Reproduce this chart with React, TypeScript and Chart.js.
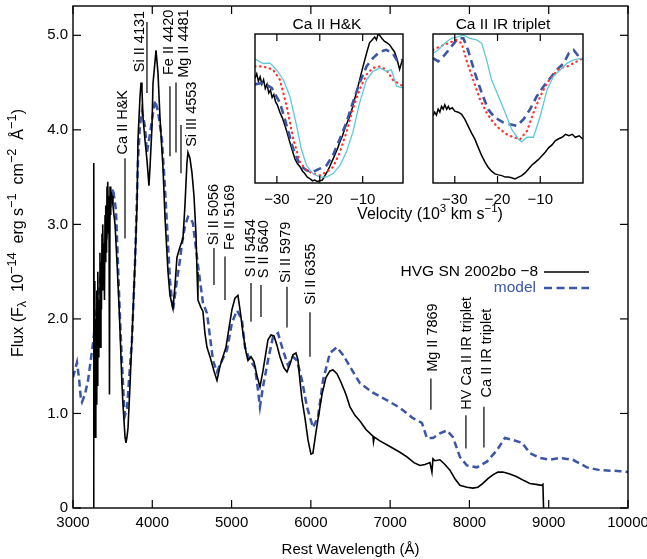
import React, { useEffect, useRef } from "react";
import { Chart, registerables } from "chart.js";
Chart.register(...registerables);

const FONT = "'Liberation Sans', Arial, sans-serif";
const BLUE = "#3c56a6";
const RED = "#ff3030";
const CYAN = "#5ec8d8";

// ---------- main panel data ----------
const xTicks = [3000, 4000, 5000, 6000, 7000, 8000, 9000, 10000];
const yTicks = [0, 1, 2, 3, 4, 5];

const obsWave = [3255,3262,3268,3275,3281,3288,3294,3300,3307,3313,3320,3326,3333,3340,3346,3353,3359,3366,3372,3378,3385,3391,3397,3404,3410,3416,3423,3429,3435,3441,3448,3454,3460,3467,3473,3479,3492,3504,3530,3555,3580,3593,3618,3630,3656,3668,3681,3694,3719,3744,3782,3807,3820,3845,3858,3870,3883,3908,3933,3958,3971,3996,4009,4047,4072,4097,4135,4160,4198,4223,4261,4286,4311,4349,4387,4412,4437,4450,4475,4500,4526,4551,4564,4576,4614,4639,4664,4690,4728,4778,4816,4854,4891,4929,4967,5005,5043,5080,5106,5144,5182,5207,5245,5282,5320,5358,5396,5434,5459,5497,5535,5573,5610,5661,5699,5737,5774,5812,5837,5862,5888,5926,5964,6001,6026,6064,6102,6140,6190,6241,6279,6329,6380,6443,6493,6556,6619,6695,6783,6790,6800,6871,6997,7123,7212,7300,7376,7439,7502,7527,7540,7565,7628,7691,7754,7817,7880,7968,8044,8107,8170,8233,8296,8359,8422,8510,8598,8687,8762,8838,8914,8927,8935];
const obsFlux = [0,3.65,1.0,2.4,0.75,2.0,1.1,2.3,1.3,2.5,1.6,2.2,1.8,2.7,1.7,2.6,2.1,2.9,2.3,3.0,2.4,2.8,2.2,3.1,2.6,3.2,2.7,3.4,2.9,3.45,3.0,3.3,1.2,3.4,3.1,3.35,3.3,3.2,3.0,2.6,2.15,1.88,1.3,1.1,0.75,0.69,0.75,0.85,1.3,1.81,2.59,3.2,3.9,4.35,4.5,4.42,4.13,3.89,3.68,3.41,3.6,4.03,4.49,4.84,4.6,4.13,3.6,3.08,2.5,2.25,2.11,2.35,2.65,2.76,2.85,3.2,3.65,3.76,3.7,3.55,3.3,2.9,2.5,2.2,2.12,2.08,1.85,1.7,1.6,1.45,1.35,1.5,1.6,1.7,1.9,2.1,2.22,2.25,2.1,1.85,1.65,1.56,1.6,1.55,1.4,1.28,1.45,1.65,1.78,1.83,1.82,1.72,1.6,1.48,1.44,1.52,1.62,1.64,1.57,1.35,1.15,0.95,0.72,0.57,0.58,0.8,1.0,1.2,1.38,1.45,1.46,1.42,1.33,1.2,1.07,0.98,0.92,0.83,0.76,0.7,0.75,0.71,0.65,0.59,0.54,0.48,0.45,0.46,0.48,0.38,0.52,0.5,0.51,0.46,0.4,0.31,0.24,0.22,0.21,0.22,0.26,0.31,0.35,0.38,0.38,0.36,0.33,0.29,0.26,0.25,0.24,0.25,0];

const modelWave = [3000,3050,3075,3100,3113,3150,3190,3252,3315,3378,3441,3480,3504,3542,3567,3593,3618,3643,3656,3681,3706,3744,3782,3807,3820,3845,3870,3908,3933,3971,4034,4072,4122,4160,4198,4223,4261,4311,4349,4375,4412,4450,4488,4513,4564,4601,4639,4690,4728,4766,4816,4879,4942,5005,5068,5131,5169,5232,5295,5333,5358,5396,5459,5522,5585,5648,5711,5774,5825,5888,5951,6027,6090,6153,6241,6329,6405,6518,6619,6783,6960,7123,7287,7401,7464,7540,7628,7716,7792,7880,7968,8094,8220,8346,8447,8548,8662,8763,8889,9015,9141,9305,9482,9646,9899,10000];
const modelFlux = [1.38,1.54,1.38,1.15,1.12,1.2,1.35,1.74,2.23,2.65,2.94,3.25,3.38,3.15,2.59,2.0,1.53,1.1,0.98,1.05,1.35,1.78,2.59,3.3,3.68,4.05,4.2,4.03,3.76,3.96,4.31,4.2,3.89,3.39,2.8,2.41,2.09,2.41,2.62,2.8,2.98,3.08,3.06,3.01,2.65,2.41,2.17,2.06,1.81,1.56,1.44,1.56,1.67,1.96,2.09,1.99,1.7,1.56,1.49,1.25,1.07,1.28,1.56,1.81,1.85,1.67,1.51,1.6,1.56,1.35,1.07,0.85,0.96,1.35,1.64,1.7,1.62,1.46,1.32,1.22,1.14,1.06,0.95,0.9,0.74,0.74,0.79,0.82,0.75,0.54,0.45,0.43,0.49,0.61,0.74,0.72,0.69,0.58,0.53,0.51,0.53,0.51,0.43,0.4,0.39,0.38];

const lineNames = ["Ca II H&K","Si II 4131","Fe II 4420","Mg II 4481","Si III 4553","Si II 5056","Fe II 5169","S II 5454","S II 5640","Si II 5979","Si II 6355","Mg II 7869","HV Ca II IR triplet","Ca II IR triplet"];
const lineWave = [3656,3933,4223,4299,4362,4778,4917,5245,5371,5699,5989,7514,7956,8183];
const lineTop = [3.70,5.14,4.46,4.50,4.05,2.75,2.66,2.38,2.36,2.34,2.07,1.37,0.98,1.07];
const lineBottom = [2.85,4.39,3.72,3.76,3.54,2.36,2.20,1.97,2.02,1.91,1.60,1.04,0.63,0.64];
const labelWave = [3630,3845,4211,4400,4500,4778,4980,5245,5409,5686,6001,7540,7968,8221];
const labelBase = [3.74,4.61,4.58,4.55,3.82,2.78,2.73,2.44,2.43,2.38,2.15,1.44,1.04,1.17];

const legendNames = ["HVG SN 2002bo \u22128", "model"];

// ---------- inset data ----------
const insetTicks = [-30, -20, -10];

const hkObsV = [-35.1,-34.7,-34.3,-33.9,-33.5,-33.1,-32.7,-32.3,-31.9,-31.5,-31.1,-30.7,-30.3,-29.9,-29.3,-28.7,-28.1,-27.5,-27.0,-26.4,-25.8,-25.2,-24.6,-24.0,-23.5,-22.9,-22.3,-21.7,-21.2,-20.6,-20.0,-19.4,-18.8,-18.2,-17.7,-17.1,-16.5,-15.9,-15.3,-14.7,-14.2,-13.6,-13.0,-12.4,-11.9,-11.3,-10.7,-10.1,-9.5,-9.0,-8.4,-7.8,-7.2,-6.8,-6.4,-6.0,-5.5,-4.9,-4.3,-3.7,-3.1,-2.6,-2.0,-1.4,-1.0,-0.7];
const hkObsY = [0.70,0.73,0.68,0.71,0.66,0.69,0.63,0.66,0.60,0.62,0.57,0.59,0.54,0.52,0.47,0.43,0.378,0.32,0.268,0.21,0.154,0.12,0.10,0.07,0.054,0.03,0.02,0.005,0.01,0.0,0.005,0.01,0.04,0.07,0.10,0.14,0.18,0.22,0.27,0.31,0.356,0.40,0.445,0.50,0.557,0.62,0.69,0.76,0.825,0.88,0.94,0.96,0.98,0.96,1.0,0.99,0.97,0.95,0.94,0.926,0.90,0.88,0.83,0.76,0.80,0.825];
const hkModV = [-35.1,-33.2,-31.2,-29.3,-27.7,-26.2,-24.6,-23.1,-21.6,-20.0,-18.4,-16.9,-15.3,-13.8,-12.3,-10.7,-9.1,-7.6,-6.0,-4.5,-3.0,-1.8,-0.6];
const hkModY = [0.658,0.67,0.635,0.535,0.378,0.22,0.11,0.076,0.065,0.087,0.11,0.18,0.29,0.40,0.535,0.67,0.78,0.837,0.88,0.893,0.87,0.81,0.825];
const hkRedV = [-35.1,-33.2,-30.9,-29.3,-27.7,-26.2,-24.6,-23.1,-21.6,-20.0,-18.4,-16.9,-15.3,-13.8,-12.3,-10.7,-9.1,-7.6,-6.0,-4.5,-3.0,-0.6];
const hkRedY = [0.78,0.78,0.758,0.69,0.51,0.29,0.13,0.076,0.054,0.042,0.065,0.098,0.2,0.333,0.49,0.624,0.725,0.77,0.78,0.758,0.69,0.646];
const hkCyanV = [-35.1,-33.2,-31.6,-30.1,-28.5,-27.0,-25.4,-24.3,-23.1,-21.6,-20.0,-18.4,-16.9,-15.3,-13.8,-12.3,-10.7,-9.1,-7.6,-6.0,-4.5,-3.3,-2.1,-0.6];
const hkCyanY = [0.83,0.80,0.803,0.758,0.69,0.58,0.378,0.22,0.11,0.054,0.03,0.03,0.054,0.11,0.2,0.333,0.535,0.69,0.747,0.77,0.747,0.758,0.646,0.635];

const irObsV = [-35.1,-34.7,-34.3,-33.9,-33.5,-33.1,-32.7,-32.35,-31.9,-31.5,-31.2,-30.6,-30.0,-29.2,-28.4,-27.6,-26.9,-26.1,-25.3,-24.5,-23.7,-22.9,-22.2,-21.4,-20.6,-19.8,-19.0,-18.2,-17.5,-16.7,-15.9,-15.1,-14.35,-13.5,-12.75,-12.0,-11.2,-10.4,-9.6,-8.8,-8.0,-7.2,-6.5,-5.7,-4.9,-4.1,-3.3,-2.5,-1.8,-0.9,0.0];
const irObsY = [0.444,0.47,0.45,0.49,0.47,0.51,0.49,0.52,0.49,0.51,0.49,0.50,0.477,0.47,0.455,0.42,0.377,0.33,0.287,0.23,0.175,0.13,0.097,0.07,0.052,0.045,0.04,0.03,0.03,0.025,0.018,0.03,0.04,0.06,0.085,0.11,0.13,0.15,0.175,0.20,0.23,0.25,0.276,0.29,0.30,0.32,0.31,0.32,0.30,0.31,0.287];
const irModV = [-35.1,-33.9,-32.35,-30.8,-29.2,-28.0,-26.9,-25.3,-23.7,-22.2,-20.6,-18.6,-17.1,-15.5,-13.9,-12.4,-10.8,-9.2,-7.65,-6.1,-4.5,-3.3,-2.2,-1.0,0.0];
const irModY = [0.836,0.814,0.859,0.915,0.971,0.971,0.892,0.736,0.601,0.489,0.433,0.40,0.388,0.377,0.422,0.489,0.578,0.646,0.702,0.758,0.803,0.87,0.892,0.847,0.83];
const irRedV = [-35.1,-33.5,-31.6,-29.6,-28.4,-27.3,-25.7,-24.1,-22.55,-21.0,-19.4,-17.8,-16.3,-14.7,-13.1,-11.6,-10.0,-8.4,-6.9,-5.3,-3.7,-2.2,0.0];
const irRedY = [0.892,0.915,0.937,0.96,0.937,0.825,0.69,0.556,0.466,0.40,0.354,0.32,0.30,0.287,0.343,0.466,0.578,0.668,0.724,0.77,0.78,0.803,0.836];
const irCyanV = [-35.1,-33.9,-32.35,-30.8,-29.2,-28.0,-26.5,-24.9,-23.7,-22.55,-21.4,-19.8,-18.2,-16.7,-15.1,-14.35,-13.1,-11.6,-10.0,-8.4,-6.9,-5.3,-3.7,-2.2,0.0];
const irCyanY = [0.87,0.892,0.937,0.971,0.982,0.993,0.971,0.96,0.937,0.825,0.69,0.578,0.466,0.354,0.287,0.269,0.30,0.30,0.444,0.623,0.713,0.758,0.803,0.825,0.836];

// ---------- helpers ----------
const pts = (xs: number[], ys: number[]) => xs.map((x, i) => ({ x, y: ys[i] }));

type Part = { t: string; s: number };
function richText(ctx: CanvasRenderingContext2D, parts: Part[], x: number, y: number, rotate: boolean, size: number, supScale: number, color: string) {
  ctx.save();
  ctx.translate(x, y);
  if (rotate) ctx.rotate(-Math.PI / 2);
  const big = `${size}px ${FONT}`;
  const small = `${(size * supScale).toFixed(1)}px ${FONT}`;
  let w = 0;
  for (const p of parts) { ctx.font = p.s ? small : big; w += ctx.measureText(p.t).width; }
  let cx = -w / 2;
  ctx.textBaseline = "middle";
  ctx.textAlign = "left";
  ctx.fillStyle = color;
  for (const p of parts) {
    ctx.font = p.s ? small : big;
    const dy = p.s === 1 ? -size * 0.38 : p.s === -1 ? size * 0.22 : 0;
    ctx.fillText(p.t, cx, dy);
    cx += ctx.measureText(p.t).width;
  }
  ctx.restore();
}

function seg(ctx: CanvasRenderingContext2D, x1: number, y1: number, x2: number, y2: number) {
  ctx.beginPath(); ctx.moveTo(x1, y1); ctx.lineTo(x2, y2); ctx.stroke();
}

const mainDecor = {
  id: "mainDecor",
  afterDraw(chart: any) {
    const { ctx, chartArea: a, scales } = chart;
    const x = scales.x, y = scales.y;
    ctx.save();
    ctx.strokeStyle = "#000";
    ctx.lineWidth = 1.4;
    ctx.strokeRect(a.left, a.top, a.right - a.left, a.bottom - a.top);
    ctx.lineWidth = 1.2;
    for (const t of xTicks) {
      const px = x.getPixelForValue(t);
      seg(ctx, px, a.bottom, px, a.bottom - 8);
      seg(ctx, px, a.top, px, a.top + 8);
    }
    for (const t of yTicks) {
      const py = y.getPixelForValue(t);
      seg(ctx, a.left, py, a.left + 8, py);
      seg(ctx, a.right, py, a.right - 8, py);
    }
    // line identification labels
    ctx.fillStyle = "#000";
    ctx.font = `14.5px ${FONT}`;
    lineNames.forEach((s, i) => {
      const px = x.getPixelForValue(labelWave[i]);
      const py = y.getPixelForValue(labelBase[i]);
      ctx.save();
      ctx.translate(px, py);
      ctx.rotate(-Math.PI / 2);
      ctx.textAlign = "left";
      ctx.textBaseline = "middle";
      ctx.fillText(s, 0, 0);
      ctx.restore();
    });
    // legend
    ctx.font = `15.5px ${FONT}`;
    ctx.textAlign = "right";
    ctx.textBaseline = "middle";
    ctx.fillStyle = "#000";
    ctx.fillText(legendNames[0], 538, 272);
    ctx.fillStyle = BLUE;
    ctx.fillText(legendNames[1], 536, 288);
    ctx.strokeStyle = "#000";
    ctx.lineWidth = 1.5;
    seg(ctx, 544, 272, 589, 272);
    ctx.strokeStyle = BLUE;
    ctx.lineWidth = 2.5;
    ctx.setLineDash([8, 4.5]);
    seg(ctx, 544, 288, 589, 288);
    ctx.setLineDash([]);
    // y axis title
    richText(ctx, [
      { t: "Flux (F", s: 0 }, { t: "\u03bb", s: -1 }, { t: "  10", s: 0 }, { t: "\u221214", s: 1 },
      { t: "  erg s", s: 0 }, { t: "\u22121", s: 1 }, { t: "  cm", s: 0 }, { t: "\u22122", s: 1 },
      { t: "  \u00c5", s: 0 }, { t: "\u22121", s: 1 }, { t: ")", s: 0 },
    ], 19, 233, true, 16, 0.8, "#000");
    // velocity label for insets
    richText(ctx, [
      { t: "Velocity (10", s: 0 }, { t: "3", s: 1 }, { t: " km s", s: 0 }, { t: "\u22121", s: 1 }, { t: ")", s: 0 },
    ], 430, 215, false, 16, 0.72, "#000");
    ctx.restore();
  },
};

function mainConfig(): any {
  const datasets: any[] = [
    { data: pts(obsWave, obsFlux), borderColor: "#000", borderWidth: 1.6, pointRadius: 0, tension: 0 },
    { data: pts(modelWave, modelFlux), borderColor: BLUE, borderWidth: 2.5, borderDash: [7, 4], pointRadius: 0, tension: 0 },
  ];
  lineWave.forEach((w, i) => {
    datasets.push({ data: [{ x: w, y: lineTop[i] }, { x: w, y: lineBottom[i] }], borderColor: "#000", borderWidth: 1.2, pointRadius: 0 });
  });
  return {
    type: "line",
    data: { datasets },
    options: {
      responsive: false,
      animation: false,
      devicePixelRatio: 1,
      layout: { padding: { top: 6, right: 19, left: 0, bottom: 0 } },
      plugins: { legend: { display: false }, tooltip: { enabled: false } },
      scales: {
        x: {
          type: "linear", min: 3000, max: 10000,
          grid: { display: false, drawTicks: false }, border: { display: false },
          ticks: { font: { family: FONT, size: 15 }, color: "#000", padding: 6, maxRotation: 0, autoSkip: false, callback: (v: number) => String(v) },
          afterBuildTicks: (s: any) => { s.ticks = xTicks.map((v) => ({ value: v })); },
          afterFit: (s: any) => { s.height = 51; s.paddingLeft = 0; s.paddingRight = 0; },
          title: { display: true, text: "Rest Wavelength (\u00c5)", font: { family: FONT, size: 15 }, color: "#000", padding: { top: 0, bottom: 0 } },
        },
        y: {
          type: "linear", min: 0, max: 5.31,
          grid: { display: false, drawTicks: false }, border: { display: false },
          ticks: { font: { family: FONT, size: 15 }, color: "#000", padding: 5, callback: (v: number) => (v === 0 ? "0" : v.toFixed(1)) },
          afterBuildTicks: (s: any) => { s.ticks = yTicks.map((v) => ({ value: v })); },
          afterFit: (s: any) => { s.width = 73; s.paddingTop = 0; s.paddingBottom = 0; },
        },
      },
    },
    plugins: [mainDecor],
  };
}

function insetConfig(series: { v: number[]; y: number[]; kind: string }[], title: string, titleX: number, padLeft: number, max: number): any {
  const style: any = {
    obs: { borderColor: "#000", borderWidth: 1.5 },
    model: { borderColor: BLUE, borderWidth: 2.6, borderDash: [8, 5] },
    red: { borderColor: RED, borderWidth: 2.2, borderDash: [0.5, 4.5], borderCapStyle: "round" },
    cyan: { borderColor: CYAN, borderWidth: 1.3 },
  };
  const decor = {
    id: "insetDecor",
    afterDraw(chart: any) {
      const { ctx, chartArea: a, scales } = chart;
      ctx.save();
      ctx.strokeStyle = "#000";
      ctx.lineWidth = 1.4;
      ctx.strokeRect(a.left, a.top, a.right - a.left, a.bottom - a.top);
      ctx.lineWidth = 1.2;
      for (const t of insetTicks) {
        const px = scales.x.getPixelForValue(t);
        seg(ctx, px, a.bottom, px, a.bottom - 7);
        seg(ctx, px, a.top, px, a.top + 7);
      }
      ctx.font = `15.5px ${FONT}`;
      ctx.fillStyle = "#000";
      ctx.textAlign = "center";
      ctx.textBaseline = "middle";
      ctx.fillText(title, titleX, 17);
      ctx.restore();
    },
  };
  return {
    type: "line",
    data: {
      datasets: [...series].reverse().map((s) => ({ data: pts(s.v, s.y), pointRadius: 0, tension: 0, ...style[s.kind] })),
    },
    options: {
      responsive: false,
      animation: false,
      devicePixelRatio: 1,
      layout: { padding: { top: 26, right: 17, left: padLeft, bottom: 0 } },
      plugins: { legend: { display: false }, tooltip: { enabled: false } },
      scales: {
        x: {
          type: "linear", min: -35.1, max,
          grid: { display: false, drawTicks: false }, border: { display: false },
          ticks: { font: { family: FONT, size: 15 }, color: "#000", padding: 8, maxRotation: 0, autoSkip: false, callback: (v: number) => (v < 0 ? "\u2212" + Math.abs(v) : String(v)) },
          afterBuildTicks: (s: any) => { s.ticks = insetTicks.map((v) => ({ value: v })); },
          afterFit: (s: any) => { s.height = 29; s.paddingLeft = 0; s.paddingRight = 0; },
        },
        y: { type: "linear", display: false, min: -0.01, max: 1.0 },
      },
    },
    plugins: [decor],
  };
}

export default function App() {
  const mainRef = useRef<HTMLCanvasElement>(null);
  const hkRef = useRef<HTMLCanvasElement>(null);
  const irRef = useRef<HTMLCanvasElement>(null);
  useEffect(() => {
    document.body.style.margin = "0";
    const charts: Chart[] = [];
    charts.push(new Chart(mainRef.current as HTMLCanvasElement, mainConfig()));
    charts.push(new Chart(hkRef.current as HTMLCanvasElement, insetConfig([
      { v: hkObsV, y: hkObsY, kind: "obs" },
      { v: hkModV, y: hkModY, kind: "model" },
      { v: hkRedV, y: hkRedY, kind: "red" },
      { v: hkCyanV, y: hkCyanY, kind: "cyan" },
    ], "Ca II H&K", 87, 15, -0.6)));
    charts.push(new Chart(irRef.current as HTMLCanvasElement, insetConfig([
      { v: irObsV, y: irObsY, kind: "obs" },
      { v: irModV, y: irModY, kind: "model" },
      { v: irRedV, y: irRedY, kind: "red" },
      { v: irCyanV, y: irCyanY, kind: "cyan" },
    ], "Ca II IR triplet", 83, 13, 0)));
    return () => charts.forEach((c) => c.destroy());
  }, []);
  return (
    <div style={{ position: "absolute", left: 0, top: 0, width: 647, height: 559, background: "#fff" }}>
      <canvas ref={mainRef} width={647} height={559} style={{ position: "absolute", left: 0, top: 0 }} />
      <canvas ref={hkRef} width={180} height={204} style={{ position: "absolute", left: 240, top: 8 }} />
      <canvas ref={irRef} width={180} height={204} style={{ position: "absolute", left: 420, top: 8 }} />
    </div>
  );
}
